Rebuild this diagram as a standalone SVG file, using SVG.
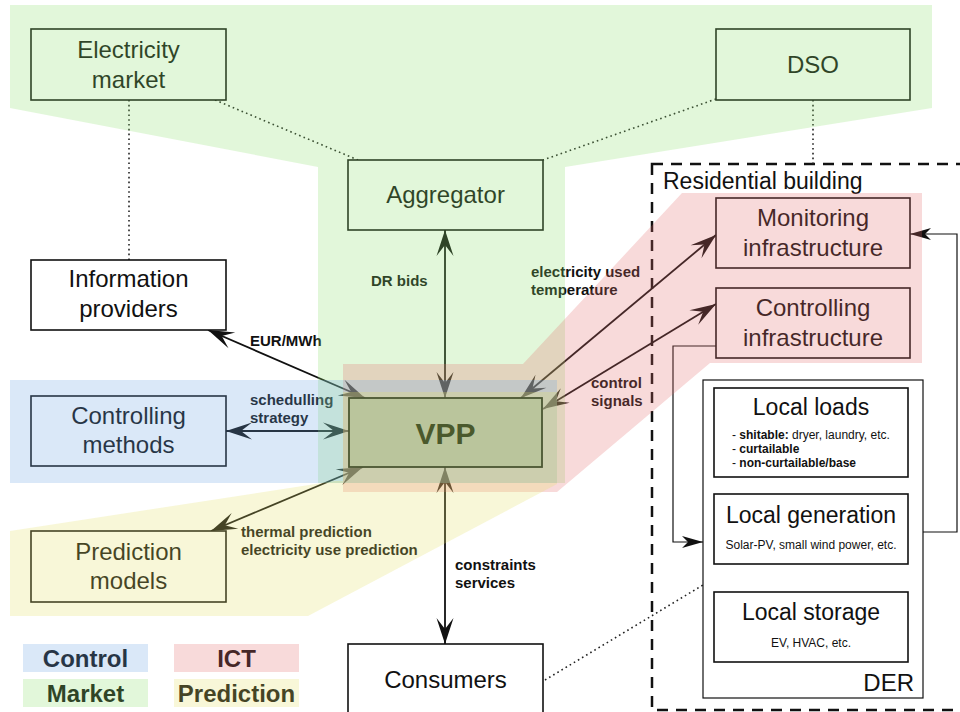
<svg xmlns="http://www.w3.org/2000/svg" width="960" height="712" viewBox="0 0 960 712">
<style>
.box{fill:#ffffff;stroke:#111;stroke-width:1.6}
.t{font-family:"Liberation Sans",Arial,sans-serif;font-size:24px;fill:#111;text-anchor:middle}
.lbl{font-family:"Liberation Sans",Arial,sans-serif;font-size:15px;font-weight:bold;fill:#111}
.sm{font-family:"Liberation Sans",Arial,sans-serif;font-size:12px;fill:#111}
.conn{fill:none;stroke:#111;stroke-width:1.8;marker-start:url(#ah);marker-end:url(#ah)}
.thin{fill:none;stroke:#111;stroke-width:1.2;marker-end:url(#sa)}
.dot{fill:none;stroke:#222;stroke-width:1.6;stroke-dasharray:1.6 3.2}
.ov{opacity:0.25;stroke:none}
.leg{font-family:"Liberation Sans",Arial,sans-serif;font-size:24px;font-weight:bold;fill:#111;text-anchor:middle}
</style>
<defs>
<marker id="ah" viewBox="-27 -10 28 20" markerWidth="28" markerHeight="20" refX="0" refY="0" markerUnits="userSpaceOnUse" orient="auto-start-reverse">
<path d="M0,0 L-26,-8.5 L-15,0 L-26,8.5 Z" fill="#111"/>
</marker>
<marker id="sa" viewBox="-23 -8 24 16" markerWidth="24" markerHeight="16" refX="0" refY="0" markerUnits="userSpaceOnUse" orient="auto">
<path d="M0,0 L-21,-6 L-15,0 L-21,6 Z" fill="#111"/>
</marker>
</defs>
<rect width="960" height="712" fill="#ffffff"/>

<g id="residential-building">
<rect x="652" y="164" width="400" height="546" fill="none" stroke="#111" stroke-width="2.5" stroke-dasharray="11 8"/>
<text x="663" y="189" class="t" style="text-anchor:start;font-size:23px">Residential building</text>
</g>

<g id="connectors">
<path class="dot" d="M129,100 L129,260"/>
<path class="dot" d="M215,100 L358,160"/>
<path class="dot" d="M716,99 L543,160"/>
<path class="dot" d="M813,100 L813,164"/>
<path class="dot" d="M545,680 L703,585"/>
<path class="conn" d="M445,230 L445,398"/>
<path class="conn" d="M208,330 L365,398"/>
<path class="conn" d="M226,431 L349,431"/>
<path class="conn" d="M211,531 L363,467"/>
<path class="conn" d="M445,467 L445,644"/>
<path class="conn" d="M521,398 L716,235"/>
<path class="conn" d="M543,409 L716,304"/>
<path class="thin" d="M716,346 L673,346 L673,542 L703,542"/>
<path class="thin" d="M923,532 L957,532 L957,234 L910,234"/>
<text class="lbl" x="371" y="286">DR bids</text>
<text class="lbl" x="250" y="346">EUR/MWh</text>
<text class="lbl" x="250" y="405">schedulling</text>
<text class="lbl" x="250" y="423">strategy</text>
<text class="lbl" x="241" y="537">thermal prediction</text>
<text class="lbl" x="241" y="555">electricity use prediction</text>
<text class="lbl" x="455" y="570">constraints</text>
<text class="lbl" x="455" y="588">services</text>
<text class="lbl" x="531" y="277">electricity used</text>
<text class="lbl" x="531" y="295">temperature</text>
<text class="lbl" x="591" y="388">control</text>
<text class="lbl" x="591" y="406">signals</text>
</g>

<g id="electricity-market">
<rect class="box" x="31" y="29" width="195" height="71"/>
<text class="t" x="128.5" y="58">Electricity</text>
<text class="t" x="128.5" y="88">market</text>
</g>
<g id="dso">
<rect class="box" x="716" y="29" width="194" height="71"/>
<text class="t" x="813" y="73">DSO</text>
</g>
<g id="aggregator">
<rect class="box" x="348" y="160" width="195" height="70"/>
<text class="t" x="445.5" y="203">Aggregator</text>
</g>
<g id="information-providers">
<rect class="box" x="31" y="260" width="195" height="70"/>
<text class="t" x="128.5" y="287">Information</text>
<text class="t" x="128.5" y="317">providers</text>
</g>
<g id="controlling-methods">
<rect class="box" x="31" y="396" width="195" height="70"/>
<text class="t" x="128.5" y="424">Controlling</text>
<text class="t" x="128.5" y="453">methods</text>
</g>
<g id="prediction-models">
<rect class="box" x="31" y="531" width="195" height="71"/>
<text class="t" x="128.5" y="560">Prediction</text>
<text class="t" x="128.5" y="589">models</text>
</g>
<g id="consumers">
<rect class="box" x="348" y="644" width="195" height="72"/>
<text class="t" x="445.5" y="688">Consumers</text>
</g>
<g id="monitoring-infrastructure">
<rect class="box" x="716" y="198" width="194" height="70"/>
<text class="t" x="813" y="226">Monitoring</text>
<text class="t" x="813" y="256">infrastructure</text>
</g>
<g id="controlling-infrastructure">
<rect class="box" x="716" y="288" width="194" height="70"/>
<text class="t" x="813" y="316">Controlling</text>
<text class="t" x="813" y="346">infrastructure</text>
</g>
<g id="der">
<rect x="703" y="380" width="220" height="318" fill="#fff" stroke="#111" stroke-width="1.2"/>
<text class="t" x="914" y="691" style="text-anchor:end">DER</text>
</g>
<g id="local-loads">
<rect class="box" x="714" y="388" width="194" height="89"/>
<text class="t" x="811" y="415" style="font-size:23px">Local loads</text>
<text class="sm" x="732" y="439">- <tspan font-weight="bold">shitable:</tspan> dryer, laundry, etc.</text>
<text class="sm" x="732" y="453">- <tspan font-weight="bold">curtailable</tspan></text>
<text class="sm" x="732" y="467">- <tspan font-weight="bold">non-curtailable/base</tspan></text>
</g>
<g id="local-generation">
<rect class="box" x="714" y="494" width="194" height="70"/>
<text class="t" x="811" y="523" style="font-size:23px">Local generation</text>
<text class="sm" x="811" y="549" text-anchor="middle">Solar-PV, small wind power, etc.</text>
</g>
<g id="local-storage">
<rect class="box" x="714" y="592" width="194" height="70"/>
<text class="t" x="811" y="620" style="font-size:23px">Local storage</text>
<text class="sm" x="811" y="647" text-anchor="middle">EV, HVAC, etc.</text>
</g>

<g id="legend-text">
<text class="leg" x="85.5" y="667">Control</text>
<text class="leg" x="236.5" y="667">ICT</text>
<text class="leg" x="85.5" y="702">Market</text>
<text class="leg" x="236.5" y="702">Prediction</text>
</g>

<g id="regions">
<polygon class="ov" fill="#8bdf6b" points="10,5 932,5 932,108 565,167 565,483 318,483 318,167 10,108"/>
<polygon class="ov" fill="#e36b6b" points="343,364 523,364 682,193 922,193 922,363 710,363 557,492 343,492"/>
<polygon class="ov" fill="#6ba3e3" points="10,380 557,380 557,483 10,483"/>
<polygon class="ov" fill="#e3df63" points="10,531 335,481 343,481 343,392 557,392 557,484 308,616 10,616"/>
<rect class="ov" fill="#6ba3e3" x="23" y="644" width="125" height="28"/>
<rect class="ov" fill="#e36b6b" x="174" y="644" width="125" height="28"/>
<rect class="ov" fill="#8bdf6b" x="23" y="679" width="125" height="28"/>
<rect class="ov" fill="#e3df63" x="174" y="679" width="125" height="28"/>
</g>

<g id="vpp">
<rect x="349" y="398" width="193" height="69" fill="#bac59c" stroke="#4b5632" stroke-width="1.8"/>
<text x="445.5" y="444" style="font-family:'Liberation Sans',Arial,sans-serif;font-size:30px;font-weight:bold;fill:#4a592c;text-anchor:middle">VPP</text>
</g>
</svg>
